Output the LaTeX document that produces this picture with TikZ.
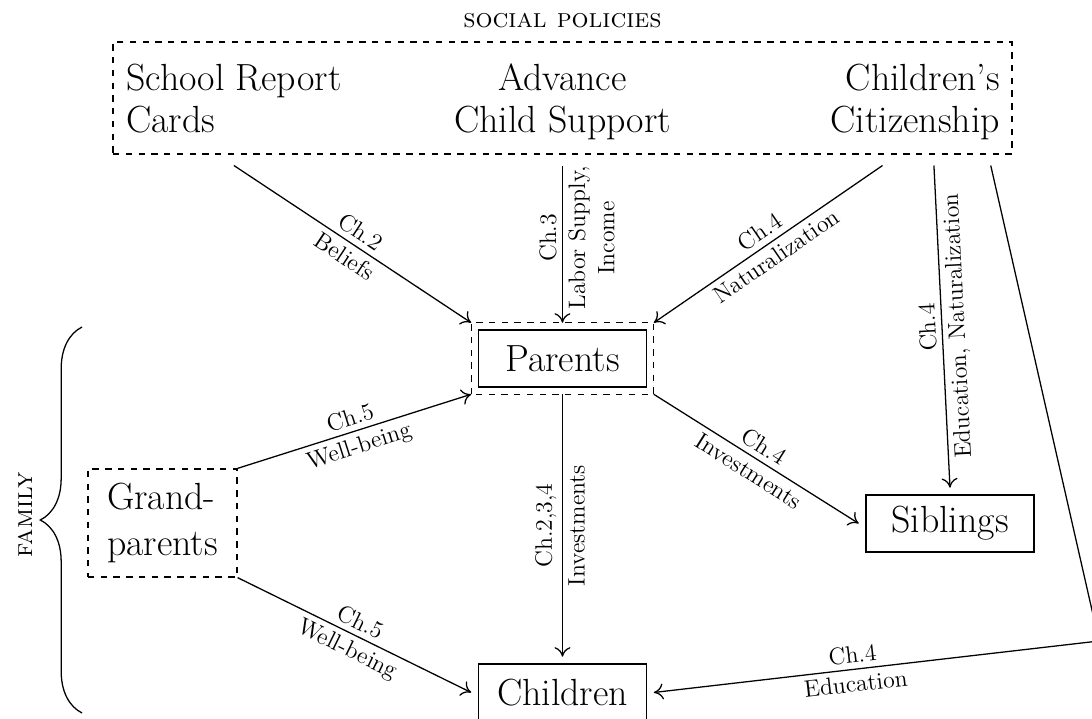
\documentclass[tikz,border=0pt]{standalone}
\usetikzlibrary{positioning,decorations.pathreplacing,arrows.meta}

\begin{document}
\begin{tikzpicture}[semithick, >={To[length=4.5pt, width=7.5pt]},
  policybox/.style={draw, dashed, minimum width=14.87cm, minimum height=1.853cm},
  policy/.style={inner sep=0pt, font=\fontsize{17.8}{19.8}\selectfont},
  member/.style={draw, minimum width=2.78cm, minimum height=0.943cm, outer sep=0.12cm, font=\fontsize{17.8}{22}\selectfont},
  lab/.style={sloped, inner sep=2.5pt, font=\fontsize{11.2}{13.8}\selectfont},
  group/.style={font=\fontsize{12.6}{15}\selectfont},
  ]
\useasboundingbox (0,0) rectangle (18.065,11.878);

% social policies
\node[policybox] (policies) at (9.305,10.257) {};
\node[group, above=0.22cm of policies, inner sep=0pt] (social) {\textsc{social policies}};
\node[policy, align=left, below right=0.36cm and 0.22cm of policies.north west] (school) {School Report\\Cards};
\node[policy, align=center, below=0.36cm of policies.north] (advance) {Advance\\Child Support};
\node[policy, align=right, below left=0.36cm and 0.2cm of policies.north east] (citizen) {Children's\\Citizenship};
\coordinate (base) at ([yshift=-0.18cm]policies.south);
\coordinate (corner) at (18.181,1.274);

% family
\node[member] (parents) at (9.305,5.947) {Parents};
\draw[dashed] (parents.south west) rectangle (parents.north east);
\node[member] (siblings) at (15.716,3.218) {Siblings};
\node[member] (children) at (9.305,0.422) {Children};
\node[draw, dashed, align=left, minimum width=2.465cm, minimum height=1.787cm, font=\fontsize{17.8}{22}\selectfont] (grandparents) at (2.688,3.226) {Grand-\\parents};

\draw[decorate, decoration={brace, amplitude=0.69cm}] (1.357,0.083) -- (1.357,6.468);
\node[group, rotate=90, anchor=south] (family) at (0.662,3.36) {\textsc{family}};

% policies -> family
\draw[->] (base -| school) -- (parents.north west) node[lab, midway, above] {Ch.2} node[lab, midway, below] {Beliefs};
\draw[<-] (parents.north) -- (base -| advance) node[lab, allow upside down, pos=0.54, above] {Ch.3} node[lab, allow upside down, pos=0.54, below, align=center] {Labor Supply,\\Income};
\draw[->] ([xshift=-0.54cm]base -| citizen) -- (parents.north east) node[lab, midway, above] {Ch.4} node[lab, midway, below] {Naturalization};
\draw[<-] (siblings.north) -- ([xshift=0.31cm]base -| citizen) node[lab, allow upside down, midway, above] {Ch.4} node[lab, allow upside down, midway, below] {Education, Naturalization};
\draw[->] ([xshift=1.25cm]base -| citizen) -- (corner) -- (children.east) node[lab, pos=0.55, above] {Ch.4} node[lab, pos=0.55, below] {Education};

% within family
\draw[->] (grandparents.north east) -- (parents.south west) node[lab, midway, above] {Ch.5} node[lab, midway, below] {Well-being};
\draw[->] (grandparents.south east) -- (children.west) node[lab, midway, above] {Ch.5} node[lab, midway, below] {Well-being};
\draw[<-] (children.north) -- (parents.south) node[lab, allow upside down, midway, above] {Ch.2,3,4} node[lab, allow upside down, midway, below] {Investments};
\draw[->] (parents.south east) -- (siblings.west) node[lab, midway, above] {Ch.4} node[lab, midway, below] {Investments};
\end{tikzpicture}
\end{document}
